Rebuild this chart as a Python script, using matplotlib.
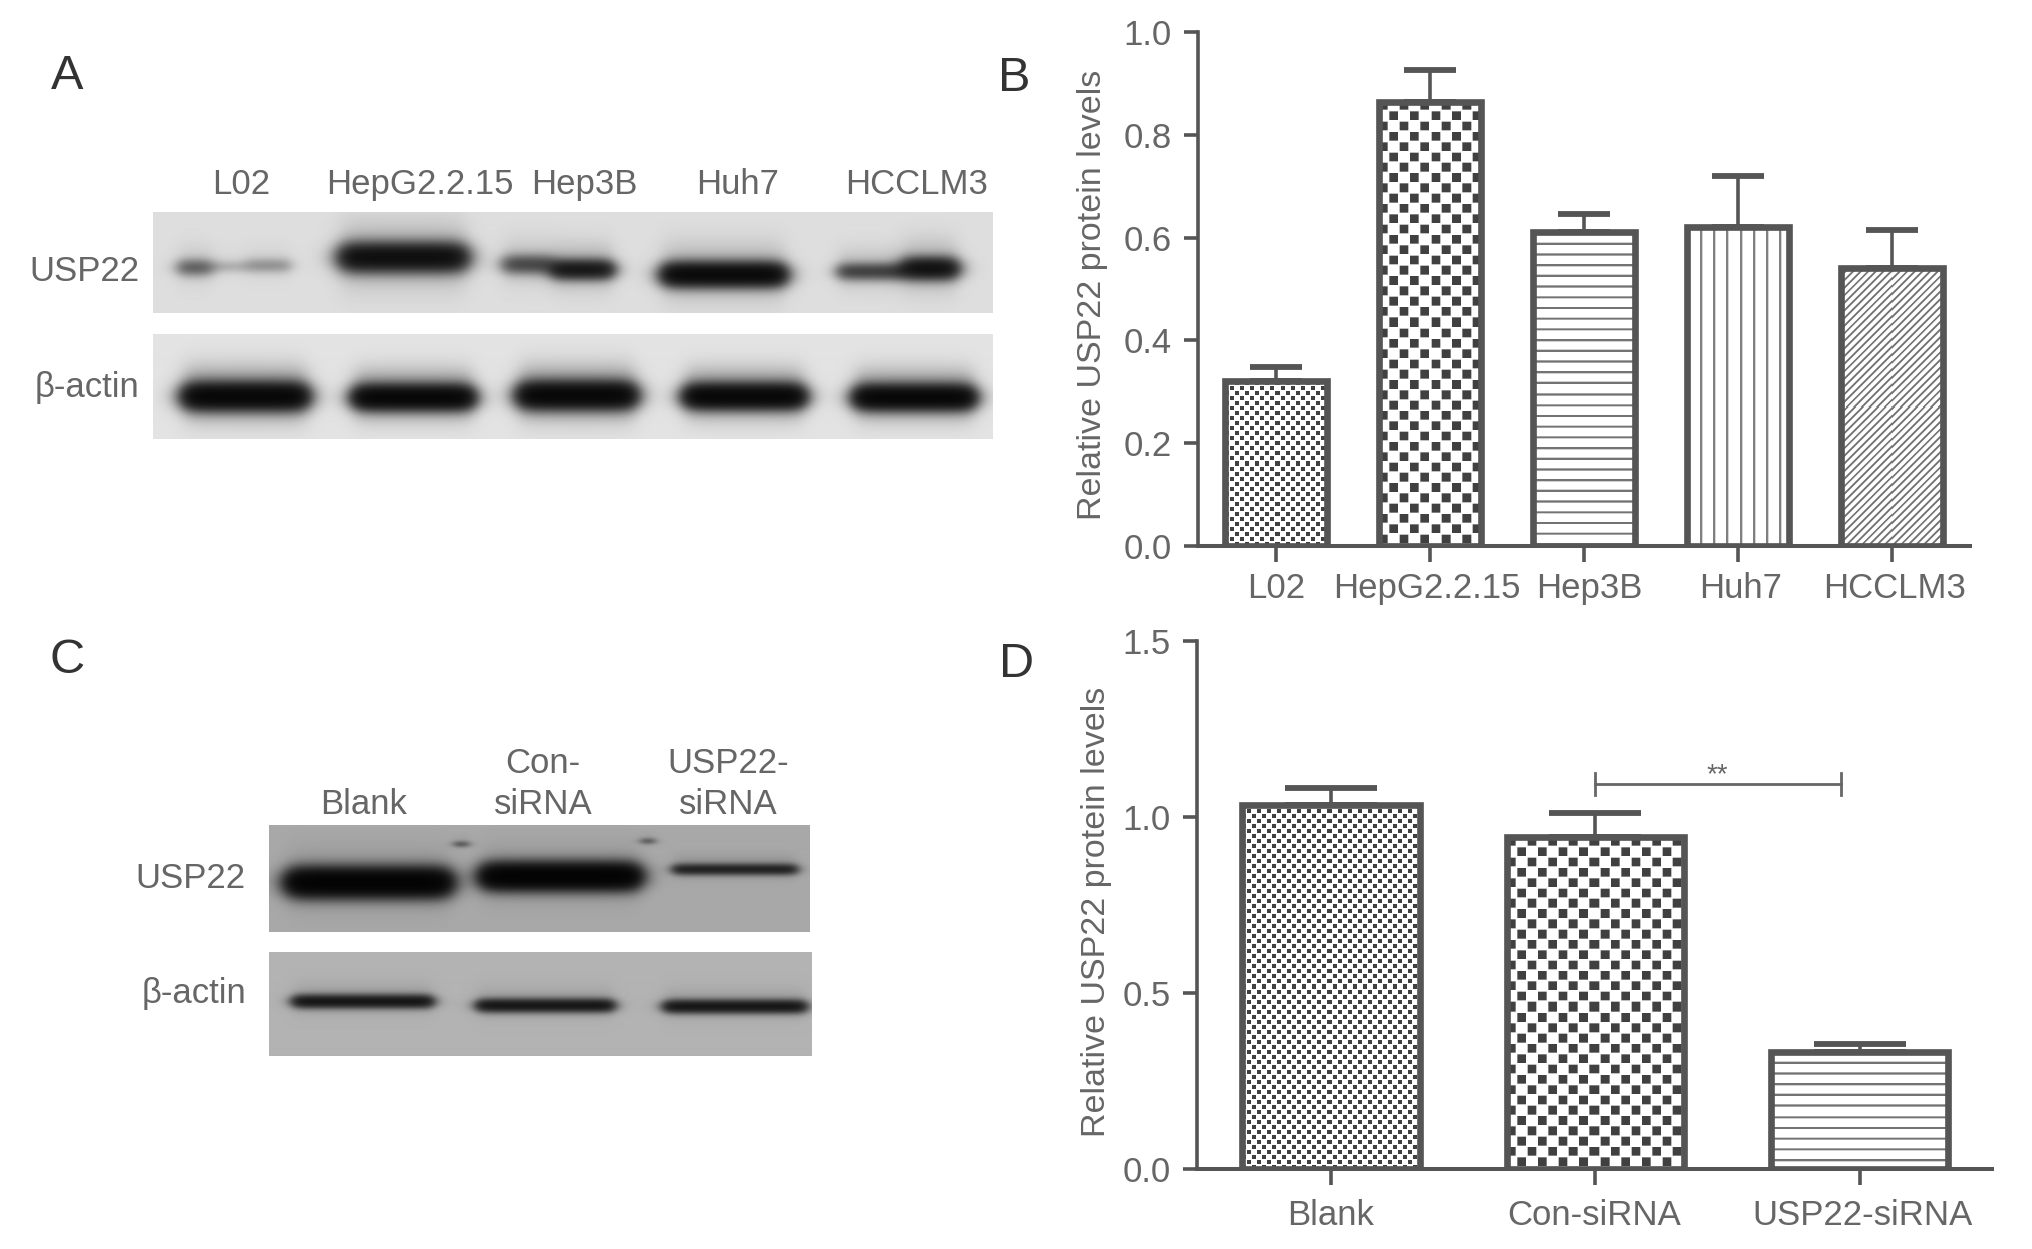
import numpy as np
import matplotlib
matplotlib.use('Agg')
import matplotlib.pyplot as plt
from matplotlib.transforms import ScaledTranslation

plt.rcParams['font.family'] = ['Liberation Sans', 'DejaVu Sans']

W, H = 2032, 1249
GRAY = '#555555'
TEXT = '#666666'

# panel B
cells = ['L02', 'HepG2.2.15', 'Hep3B', 'Huh7', 'HCCLM3']
cell_vals = [0.320, 0.864, 0.610, 0.621, 0.541]
cell_errs = [0.028, 0.061, 0.036, 0.098, 0.074]
cell_fills = ['dots', 'checker', 'hlines', 'vlines', 'diag']
cell_label_shift = [0, -3, 5, 3, 3]

# panel D
groups = ['Blank', 'Con-siRNA', 'USP22-siRNA']
group_vals = [1.035, 0.942, 0.333]
group_errs = [0.047, 0.069, 0.023]
group_fills = ['dots', 'checker', 'hlines']
group_label_shift = [0, -1, 3]
bracket_x = [1, 1.93]
bracket_y = 1.093

# blots, each band is x0, x1, y centre, half thickness, darkness (figure pixels)
blot_a_top = [(179, 211, 268, 8, .45), (211, 247, 267, 6, .12), (247, 290, 266, 7, .22),
              (342, 465, 258, 13, 1.5), (504, 553, 265, 9, .6), (553, 612, 270, 9, 1.2),
              (664, 784, 275, 11, 1.7), (839, 904, 272, 8, .65), (904, 956, 269, 10, 1.4)]
blot_a_bot = [(185, 306, 397, 12, 1.7), (355, 472, 398, 11, 1.7), (520, 634, 396, 12, 1.7),
              (686, 803, 397, 11, 1.7), (856, 973, 398, 11, 1.7)]
blot_c_top = [(289, 449, 883, 13, 2.2), (483, 638, 877, 12, 2.2), (674, 796, 870, 5, .9),
              (455, 468, 845, 3, .4), (642, 654, 842, 3, .4)]
blot_c_bot = [(294, 432, 1002, 6, 1.2), (478, 613, 1006, 6, 1.2), (665, 805, 1007, 6, 1.2)]

fig = plt.figure(figsize=(W / 100, (H + .1) / 100), dpi=100)


def px_axes(left, top, right, bottom):
    return fig.add_axes([left / W, 1 - bottom / H, (right - left) / W, (bottom - top) / H])


def px_text(x, y, s, **kw):
    kw.setdefault('color', TEXT)
    kw.setdefault('fontsize', 25)
    kw.setdefault('va', 'center')
    kw.setdefault('ha', 'center')
    fig.text(x / W, 1 - y / H, s, **kw)


def blot(left, top, right, bottom, bg, halo, halo_dark, bands):
    ax = px_axes(left, top, right, bottom)
    xx, yy = np.meshgrid(np.arange(left, right) + .5, np.arange(top, bottom) + .5)
    ink = np.zeros_like(xx)
    for x0, x1, yc, t, dark in bands:
        soft = 4 + t * .6
        sx = .5 * (np.tanh((xx - x0) / soft) - np.tanh((xx - x1) / soft))
        ink += dark * sx * np.exp(-((yy - yc) / t) ** 2)
        ink += halo_dark * min(dark, 1) * sx * np.exp(-((yy - yc + 3) / (t * halo)) ** 2)
    img = bg * np.exp(-1.6 * ink)
    ax.imshow(img, cmap='gray', vmin=0, vmax=1, aspect='auto', interpolation='bilinear')
    ax.axis('off')


def texture(kind, w, h):
    # 3x supersampled so the fills come out a bit soft like the reference
    s = 3
    xx, yy = np.meshgrid((np.arange(w * s) + .5) / s, (np.arange(h * s) + .5) / s)
    if kind == 'checker':
        c = 10.3
        on = (np.floor(xx / c) + np.floor(yy / c)) % 2 == 0
        on &= (xx % c < 8.8) & (yy % c < 8.8)
        ink = on * .75
    elif kind == 'dots':
        c = 5.0
        on = (np.floor(xx / c) + np.floor(yy / c)) % 2 == 0
        on &= (xx % c < 4.0) & (yy % c < 4.0)
        ink = on * .75
    elif kind == 'hlines':
        ink = (yy % 10.7 < 2.2) * .55
    elif kind == 'vlines':
        ink = (xx % 13 < 2.2) * .5
    else:
        ink = ((xx + yy) % 7.6 < 2.6) * .55
    ink = ink.reshape(h, s, w, s).mean(axis=(1, 3))
    return 1 - ink


def bar_panel(left, top, right, bottom, xlim, ymax, yticks, fmt, names, vals, errs, fills,
              shifts, width, capsize, label_pad):
    ax = px_axes(left, top, right, bottom)
    x = np.arange(len(vals))
    bars = ax.bar(x, vals, width, facecolor='none', edgecolor=GRAY, linewidth=4.8, zorder=3)
    ax.errorbar(x, vals, yerr=[np.zeros(len(errs)), errs], fmt='none', ecolor=GRAY,
                elinewidth=2.6, capsize=capsize, capthick=4.2, zorder=2)
    ax.set_xlim(*xlim)
    ax.set_ylim(0, ymax)
    for b, kind in zip(bars, fills):
        box = b.get_window_extent(fig.canvas.get_renderer())
        im = ax.imshow(texture(kind, int(box.width), int(box.height)), cmap='gray', vmin=0, vmax=1,
                       extent=[b.get_x(), b.get_x() + b.get_width(), 0, b.get_height()],
                       aspect='auto', interpolation='nearest', zorder=1)
        im.set_clip_path(b)
    ax.set_xlim(*xlim)
    ax.set_ylim(0, ymax)
    for side in ['top', 'right']:
        ax.spines[side].set_visible(False)
    ax.spines['left'].set_linewidth(2.6)
    ax.spines['bottom'].set_linewidth(2.9)
    ax.spines['left'].set_color(GRAY)
    ax.spines['bottom'].set_color(GRAY)
    ax.spines['bottom'].set_zorder(4)
    ax.set_yticks(yticks)
    ax.set_yticklabels([fmt % t for t in yticks])
    ax.set_xticks(x)
    ax.set_xticklabels(names)
    ax.tick_params(axis='y', length=10, width=2.6, color=GRAY, labelcolor=TEXT, labelsize=25, pad=9)
    ax.tick_params(axis='x', length=11.5, width=2.6, color=GRAY, labelcolor=TEXT, labelsize=25,
                   pad=label_pad)
    for lab, dx in zip(ax.get_xticklabels(), shifts):
        lab.set_transform(lab.get_transform() + ScaledTranslation(dx / 100, 0, fig.dpi_scale_trans))
    return ax


blot(153, 212, 993, 313, .87, 2.4, .16, blot_a_top)
blot(153, 334, 993, 439, .89, 2.0, .35, blot_a_bot)
blot(269, 825, 810, 932, .66, 2.2, .1, blot_c_top)
blot(269, 952, 812, 1056, .70, 2.4, .08, blot_c_bot)

bar_panel(1198, 32, 1970, 546, (-.506, 4.506), 1.0, [0, .2, .4, .6, .8, 1.0], '%.1f',
          cells, cell_vals, cell_errs, cell_fills, cell_label_shift, .66, 19, 7.5)
ax_d = bar_panel(1197, 641, 1992, 1169, (-.507, 2.5), 1.5, [0, .5, 1.0, 1.5], '%.1f',
                 groups, group_vals, group_errs, group_fills, group_label_shift, .67, 33, 10)

ax_d.plot(bracket_x, [bracket_y, bracket_y], color='#666666', lw=2, zorder=3)
for bx in bracket_x:
    ax_d.plot([bx, bx], [bracket_y - .032, bracket_y + .032], color='#666666', lw=2, zorder=3)
ax_d.text(1.46, bracket_y - .012, '**', color='#666666', fontsize=20, ha='center', va='bottom')

# blot labels
px_text(241, 184, 'L02')
px_text(420, 184, 'HepG2.2.15')
px_text(584, 184, 'Hep3B')
px_text(738, 184, 'Huh7')
px_text(917, 184, 'HCCLM3')
px_text(139, 271, 'USP22', ha='right')
px_text(139, 387, '\u03b2-actin', ha='right')
px_text(364, 804, 'Blank')
px_text(543, 763, 'Con-')
px_text(543, 804, 'siRNA')
px_text(728, 763, 'USP22-')
px_text(728, 804, 'siRNA')
px_text(246, 878, 'USP22', ha='right')
px_text(246, 993, '\u03b2-actin', ha='right')

px_text(1093, 295, 'Relative USP22 protein levels', rotation=90, fontsize=24.5)
px_text(1096, 912, 'Relative USP22 protein levels', rotation=90, fontsize=24.5)

for x, y, s in [(67, 76, 'A'), (1014, 78, 'B'), (67, 660, 'C'), (1017, 664, 'D')]:
    px_text(x, y, s, fontsize=35, color='#333333')

fig.savefig('out.png', dpi=100, facecolor='white')
